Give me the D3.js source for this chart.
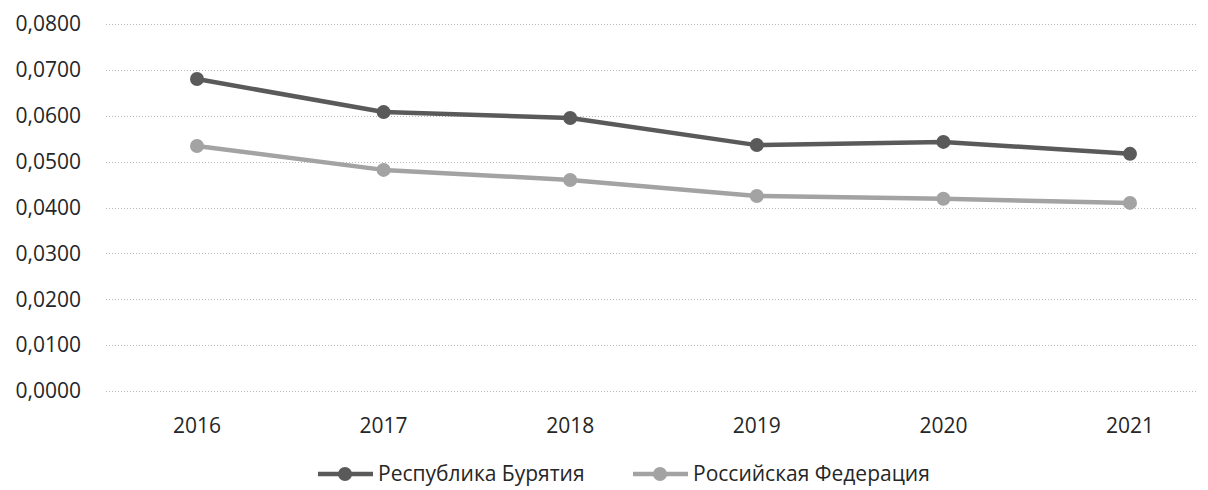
<!DOCTYPE html>
<html lang="ru">
<head>
<meta charset="UTF-8">
<title>Chart</title>
<script src="https://d3js.org/d3.v7.min.js"></script>
<style>
  body { margin: 0; background: #fff; }
  text { font-family: "Open Sans", sans-serif; fill: #262626; }
</style>
</head>
<body>
<svg id="chart" width="1208" height="490"></svg>
<script>
const years = ["2016", "2017", "2018", "2019", "2020", "2021"];
const buryatia = [0.0680, 0.0608, 0.0595, 0.0536, 0.0543, 0.0517];
const russia = [0.0534, 0.0482, 0.0460, 0.0425, 0.0419, 0.0410];
const yTicks = [0, 0.01, 0.02, 0.03, 0.04, 0.05, 0.06, 0.07, 0.08];

const series = [
  { name: "Республика Бурятия", values: buryatia, color: "#5a5a5a" },
  { name: "Российская Федерация", values: russia, color: "#a3a3a3" }
];

const svg = d3.select("#chart");

const x = d3.scalePoint().domain(years).range([197, 1130]);
const y = d3.scaleLinear().domain([0, 0.08]).range([391, 24]);

// grid
svg.append("g").selectAll("line")
  .data(yTicks)
  .join("line")
  .attr("x1", 106).attr("x2", 1198)
  .attr("y1", d => Math.round(y(d)) + 0.5)
  .attr("y2", d => Math.round(y(d)) + 0.5)
  .attr("stroke", "#b8b8b8")
  .attr("stroke-width", 1)
  .attr("stroke-dasharray", "1,2");

// y labels
const fmt = d => d.toFixed(4).replace(".", ",");
svg.append("g").selectAll("text")
  .data(yTicks)
  .join("text")
  .attr("x", 81)
  .attr("y", d => y(d))
  .attr("dy", "0.35em")
  .attr("text-anchor", "end")
  .attr("font-size", 21)
  .text(fmt);

// x labels
svg.append("g").selectAll("text")
  .data(years)
  .join("text")
  .attr("x", d => x(d))
  .attr("y", 433)
  .attr("text-anchor", "middle")
  .attr("font-size", 21)
  .text(d => d);

const line = d3.line()
  .x((d, i) => x(years[i]))
  .y(d => y(d));

series.forEach(s => {
  const g = svg.append("g");
  g.append("path")
    .attr("d", line(s.values))
    .attr("fill", "none")
    .attr("stroke", s.color)
    .attr("stroke-width", 4.5)
    .attr("stroke-linejoin", "round");
  g.selectAll("circle")
    .data(s.values)
    .join("circle")
    .attr("cx", (d, i) => x(years[i]))
    .attr("cy", d => y(d))
    .attr("r", 7)
    .attr("fill", s.color);
});

// legend
const legendX = [318, 633];
series.forEach((s, i) => {
  const lg = svg.append("g").attr("transform", `translate(${legendX[i]},474)`);
  lg.append("line")
    .attr("x1", 0).attr("x2", 55)
    .attr("stroke", s.color).attr("stroke-width", 4.5);
  lg.append("circle").attr("cx", 27).attr("r", 7).attr("fill", s.color);
  lg.append("text")
    .attr("x", 60).attr("dy", "0.35em")
    .attr("font-size", 21)
    .text(s.name);
});
</script>
</body>
</html>
